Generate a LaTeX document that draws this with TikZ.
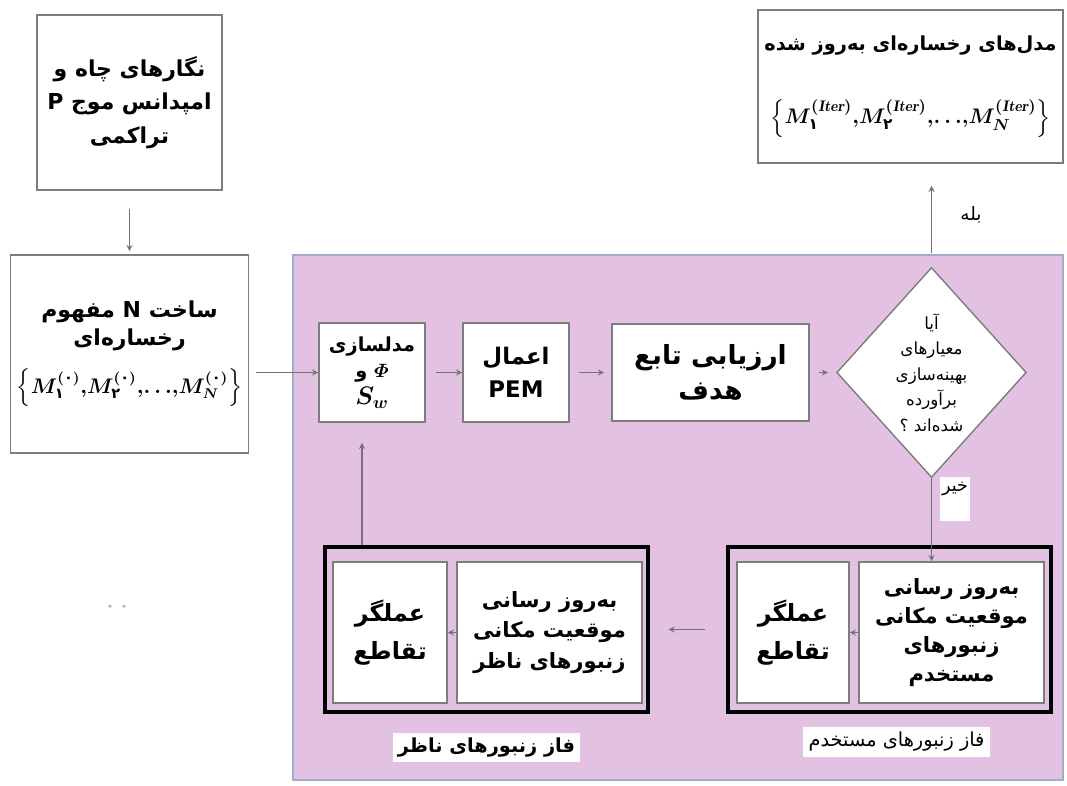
\documentclass[tikz,border=0pt]{standalone}
\usepackage{amsmath}
\usepackage{fontspec}
\usepackage{tikz}
\usetikzlibrary{shapes.geometric, arrows}
\TeXXeTstate=1
\newfontfamily\farsi[Script=Arabic]{DejaVu Sans}
\newcommand{\fa}[1]{{\farsi\beginR #1\endR}}
\newcommand{\fd}[1]{\text{\farsi #1}}
\definecolor{phase}{RGB}{227,193,226}
\definecolor{framegray}{RGB}{125,125,125}
\definecolor{regionedge}{RGB}{160,172,205}
\tikzstyle{region} = [rectangle, fill=phase, draw=regionedge, line width=1pt]
\tikzstyle{process} = [rectangle, draw=framegray, line width=0.9pt, fill=white, text centered, align=center, inner sep=2pt, font=\bfseries\fontsize{12}{18}\selectfont]
\tikzstyle{decision} = [diamond, draw=framegray, line width=0.8pt, fill=white, align=center, inner sep=0pt, font=\fontsize{9.5}{14.5}\selectfont]
\tikzstyle{phasebox} = [rectangle, draw=black, line width=1.8pt]
\tikzstyle{tag} = [rectangle, fill=white, inner sep=3pt]
\tikzstyle{arrow} = [->, >=stealth, draw=black!55, line width=0.6pt]

\begin{document}
\begin{tikzpicture}[x=0.2mm, y=-0.2mm, node distance=28.8mm]
      \useasboundingbox (0,0) rectangle (1067,785);
      \node (swarm)  [region, minimum width=154mm, minimum height=105mm] at (678,517.5) {};

      \node (well)   [process, minimum width=37mm, minimum height=35mm, font=\bfseries\fontsize{12.5}{19}\selectfont] at (129.5,102.5)
                     {\fa{نگارهای چاه و}\\ \fa{امپدانس موج P}\\ \fa{تراکمی}};
      \node (ctor)   [process, below of=well, yshift=-21.5mm, minimum width=47.6mm, minimum height=39.6mm, inner sep=0pt, font=\bfseries\fontsize{12.5}{16}\selectfont]
                     {\fa{ساخت N مفهوم}\\ \fa{رخساره‌ای}\\[9pt]
                      {\boldmath\fontsize{11.8}{15}\selectfont$\left\{M_{\fd{۱}}^{(\fd{۰})}{,}M_{\fd{۲}}^{(\fd{۰})}{,}{\ldots}{,}M_N^{(\fd{۰})}\right\}$}};
      \node (final)  [process, minimum width=61mm, minimum height=30.6mm, inner sep=0pt, font=\bfseries\fontsize{11}{14}\selectfont] at (910.5,86.5)
                     {\fa{مدل‌های رخساره‌ای به‌روز شده}\\[24pt]
                      {\boldmath\fontsize{12.5}{15}\selectfont$\left\{M_{\fd{۱}}^{(\mathit{Iter})}{,}M_{\fd{۲}}^{(\mathit{Iter})}{,}{\ldots}{,}M_N^{(\mathit{Iter})}\right\}$}};

      \node (mdl)    [process, minimum width=21.2mm, minimum height=19.8mm, font=\bfseries\fontsize{11}{15}\selectfont] at (372,372.5)
                     {\fa{مدلسازی}\\ \fa{{\boldmath$\varPhi$} و}\\ {\boldmath\fontsize{14}{15}\selectfont$S_w$}};
      \node (pem)    [process, right of=mdl, minimum width=21.2mm, minimum height=19.8mm, font=\bfseries\fontsize{13}{19}\selectfont]
                     {\fa{اعمال}\\ {\farsi PEM}};
      \node (eval)   [process, right of=pem, xshift=10.1mm, minimum width=39.4mm, minimum height=19.4mm, font=\bfseries\fontsize{15}{20}\selectfont]
                     {\fa{ارزیابی تابع}\\ \fa{هدف}};
      \node (dec)    [decision, right of=eval, xshift=15.4mm, minimum width=32.6mm, minimum height=42mm]
                     {\fa{آیا}\\ \fa{معیارهای}\\ \fa{بهینه‌سازی}\\ \fa{برآورده}\\ \fa{شده‌اند ؟}};

      \node (rgroup) [phasebox, minimum width=64.6mm, minimum height=33mm] at (889.5,629.5) {};
      \node (rupd)   [process, minimum width=37mm, minimum height=28.2mm, font=\bfseries\fontsize{12}{16.5}\selectfont] at (951.5,632.5)
                     {\fa{به‌روز رسانی}\\ \fa{موقعیت مکانی}\\ \fa{زنبورهای}\\ \fa{مستخدم}};
      \node (rcross) [process, minimum width=22.4mm, minimum height=28.2mm, font=\bfseries\fontsize{13.5}{22}\selectfont] at (793,632.5)
                     {\fa{عملگر}\\ \fa{تقاطع}};
      \node (rphase) [tag, font=\fontsize{11}{13}\selectfont] at (896.5,742) {\fa{فاز زنبورهای مستخدم}};

      \node (lgroup) [phasebox, left of=rgroup, xshift=-51.8mm, minimum width=64.6mm, minimum height=33mm] {};
      \node (lupd)   [process, minimum width=37mm, minimum height=28.2mm, font=\bfseries\fontsize{12}{17.5}\selectfont] at (549.5,632.5)
                     {\fa{به‌روز رسانی}\\ \fa{موقعیت مکانی}\\ \fa{زنبورهای ناظر}};
      \node (lcross) [process, minimum width=22.8mm, minimum height=28.2mm, font=\bfseries\fontsize{13.5}{22}\selectfont] at (390,632.5)
                     {\fa{عملگر}\\ \fa{تقاطع}};
      \node (lphase) [tag, font=\bfseries\fontsize{11}{13}\selectfont] at (486.5,747.5) {\fa{فاز زنبورهای ناظر}};

      \fill [black!30] (110,606) circle (0.35mm) (124,606) circle (0.35mm);

      \draw [arrow, shorten <=3.6mm, shorten >=0.6mm] (well) -- (ctor);
      \draw [arrow, shorten <=1.4mm] (ctor.east |- mdl.west) -- (mdl.west);
      \draw [arrow, shorten <=2mm] (mdl) -- (pem);
      \draw [arrow, shorten <=1.8mm, shorten >=1.4mm] (pem) -- (eval);
      \draw [arrow, shorten <=1.8mm, shorten >=1.6mm] (eval) -- (dec);
      \draw [arrow, shorten <=2.8mm, shorten >=4.4mm] (dec.north) -- node[anchor=west, xshift=4.5mm, font=\fontsize{10.5}{12}\selectfont] {\fa{بله}} (dec.north |- final.south);
      \draw [arrow] (dec.south) -- (dec.south |- rupd.north);
      \node (no)     [tag, anchor=north, inner sep=1pt, minimum width=4.8mm, text height=2.4mm, text depth=5.6mm, font=\fontsize{10}{12}\selectfont] at (955,477) {\fa{خیر}};
      \draw [arrow] (rupd) -- (rcross);
      \draw [arrow, shorten <=4.2mm, shorten >=3.8mm] (rgroup) -- (lgroup);
      \draw [arrow] (lupd) -- (lcross);
      \draw [arrow, shorten >=4mm] ([xshift=-2mm]mdl.south |- lgroup.north) -- ([xshift=-2mm]mdl.south);
    \end{tikzpicture}
\end{document}
